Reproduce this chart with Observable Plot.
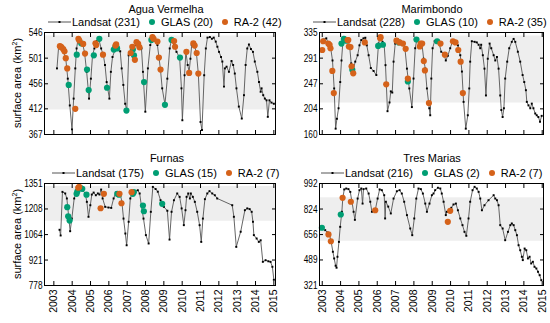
<!DOCTYPE html>
<html><head><meta charset="utf-8">
<script src="https://cdn.jsdelivr.net/npm/d3@7"></script>
<script src="https://cdn.jsdelivr.net/npm/@observablehq/plot@0.6"></script>
<style>
body{margin:0;background:#fff}
#wrap{position:relative;width:550px;height:323px;overflow:hidden;font-family:"Liberation Sans",Arial,sans-serif;color:#000}
.ttl{position:absolute;font-size:11px;transform:translate(-50%,-50%);white-space:nowrap}
.leg{position:absolute;display:flex;align-items:center;font-size:11px;white-space:nowrap;height:14px}
.dotc{width:6px;height:6px;border-radius:50%;margin-left:9px;margin-right:6px}
.ylab{position:absolute;font-size:11px;white-space:nowrap;transform:translate(-50%,-50%) rotate(-90deg)}
.ylab sup{font-size:7px;vertical-align:4px;line-height:0}
svg.pp{position:absolute;left:0;top:0}
</style>
</head><body><div id="wrap"></div>
<script>
const years = [2003,2004,2005,2006,2007,2008,2009,2010,2011,2012,2013,2014,2015];
const seriesNames = ["Landsat","GLAS","RA-2"];

// Agua Vermelha
const aguaLandsat = [[2003.17,483],[2003.26,521],[2003.40,518],[2003.54,511],[2003.65,500],[2003.76,465],[2003.87,418],[2003.99,376],[2004.08,430],[2004.17,483],[2004.24,518],[2004.31,532],[2004.42,530],[2004.56,527],[2004.67,512],[2004.79,477],[2004.92,430],[2005.02,465],[2005.11,506],[2005.21,518],[2005.34,531],[2005.47,532],[2005.58,518],[2005.70,506],[2005.79,489],[2005.88,459],[2006.03,430],[2006.11,477],[2006.20,503],[2006.35,517],[2006.49,521],[2006.62,513],[2006.70,483],[2006.79,454],[2006.89,421],[2006.98,410],[2007.08,506],[2007.23,518],[2007.35,517],[2007.48,525],[2007.62,527],[2007.78,518],[2007.86,477],[2007.99,407],[2008.13,483],[2008.26,524],[2008.39,535],[2008.54,531],[2008.65,524],[2008.73,503],[2008.81,483],[2008.91,448],[2009.06,420],[2009.19,465],[2009.32,518],[2009.41,532],[2009.56,524],[2009.69,512],[2009.86,502],[2009.96,448],[2010.01,392],[2010.13,471],[2010.20,512],[2010.30,489],[2010.38,477],[2010.45,500],[2010.52,524],[2010.64,525],[2010.77,512],[2010.88,474],[2011.00,389],[2011.08,375],[2011.20,471],[2011.29,518],[2011.38,537],[2011.51,538],[2011.62,535],[2011.72,537],[2011.83,530],[2011.92,521],[2012.01,512],[2012.12,503],[2012.19,495],[2012.28,451],[2012.33,483],[2012.42,486],[2012.55,477],[2012.69,496],[2012.78,489],[2012.87,474],[2012.96,448],[2013.09,416],[2013.25,395],[2013.37,436],[2013.46,489],[2013.55,518],[2013.64,525],[2013.75,517],[2013.86,512],[2013.96,495],[2014.10,477],[2014.19,459],[2014.28,442],[2014.33,448],[2014.42,436],[2014.51,430],[2014.60,427],[2014.67,398],[2014.76,427],[2014.87,423],[2015.00,421]];
const aguaGLAS = [[2003.81,454],[2004.25,507],[2004.49,527],[2004.81,481],[2004.90,445],[2005.18,506],[2005.48,535],[2005.90,449],[2006.27,516],[2006.35,520],[2006.40,522],[2006.45,518],[2006.96,409],[2007.31,516],[2007.37,506],[2007.92,459],[2008.32,533],[2009.06,419],[2009.42,533],[2009.88,502]];
const aguaRA2 = [[2003.33,522],[2003.38,521],[2003.42,520],[2003.51,517],[2003.58,513],[2003.65,501],[2003.73,483],[2004.17,412],[2004.34,535],[2004.39,532],[2004.60,526],[2004.70,509],[2005.27,527],[2005.31,524],[2005.68,507],[2006.36,523],[2006.40,525],[2007.19,510],[2007.28,521],[2007.42,498],[2007.51,529],[2007.60,526],[2007.67,520],[2008.38,538],[2008.44,535],[2008.65,530],[2008.73,502],[2008.82,481],[2009.56,531],[2009.61,521],[2010.23,512],[2010.38,475],[2010.61,527],[2010.68,523],[2010.79,510],[2010.88,474]];
const aguaTicks = [367,412,456,501,546];
const aguaBand = [410,540];
const aguaCounts = [231,20,42];

// Marimbondo
const mariLandsat = [[2003.07,323],[2003.22,325],[2003.34,316],[2003.47,306],[2003.56,287],[2003.65,239],[2003.73,170],[2003.80,187],[2003.89,205],[2003.98,250],[2004.05,287],[2004.12,316],[2004.25,326],[2004.38,323],[2004.49,313],[2004.58,282],[2004.67,268],[2004.80,285],[2004.93,296],[2005.03,313],[2005.13,322],[2005.25,325],[2005.35,326],[2005.43,313],[2005.53,296],[2005.65,274],[2005.80,269],[2005.95,262],[2006.07,316],[2006.16,328],[2006.29,319],[2006.38,313],[2006.45,279],[2006.56,200],[2006.67,215],[2006.74,234],[2006.82,232],[2006.89,285],[2006.98,316],[2007.11,323],[2007.26,319],[2007.40,316],[2007.51,308],[2007.62,273],[2007.75,239],[2007.89,207],[2007.98,256],[2008.07,308],[2008.16,322],[2008.31,316],[2008.43,318],[2008.53,290],[2008.62,273],[2008.71,239],[2008.84,205],[2008.89,193],[2008.95,256],[2009.02,308],[2009.13,320],[2009.25,322],[2009.38,316],[2009.49,302],[2009.62,299],[2009.74,287],[2009.85,295],[2009.98,308],[2010.11,320],[2010.26,319],[2010.40,313],[2010.53,296],[2010.62,268],[2010.71,216],[2010.83,170],[2010.94,193],[2011.02,239],[2011.07,285],[2011.16,320],[2011.31,319],[2011.43,318],[2011.53,314],[2011.62,308],[2011.67,314],[2011.76,296],[2011.85,273],[2011.93,227],[2012.03,290],[2012.13,316],[2012.22,308],[2012.35,296],[2012.44,287],[2012.53,293],[2012.62,273],[2012.71,227],[2012.77,202],[2012.84,190],[2012.91,205],[2012.98,256],[2013.09,285],[2013.20,308],[2013.34,319],[2013.44,324],[2013.53,319],[2013.67,302],[2013.80,285],[2013.93,262],[2014.02,250],[2014.11,236],[2014.16,216],[2014.25,210],[2014.35,205],[2014.43,213],[2014.52,205],[2014.62,196],[2014.70,193],[2014.79,190],[2014.88,182],[2014.97,192]];
const mariGLAS = [[2004.05,316],[2004.18,324],[2004.31,321],[2004.64,271],[2006.05,312],[2006.31,314],[2007.18,318],[2007.67,251],[2008.14,323],[2009.27,320]];
const mariRA2 = [[2003.00,305],[2003.05,320],[2003.33,316],[2003.40,314],[2003.45,308],[2003.55,269],[2003.63,231],[2004.38,322],[2004.42,322],[2004.45,311],[2004.54,310],[2004.60,277],[2004.69,265],[2005.32,318],[2006.16,325],[2006.18,327],[2006.49,246],[2007.05,321],[2007.22,318],[2007.40,316],[2007.55,307],[2007.67,256],[2008.32,311],[2008.37,316],[2008.45,316],[2008.54,286],[2008.60,270],[2008.82,214],[2009.45,316],[2009.69,297],[2010.13,320],[2010.27,318],[2010.42,305],[2010.55,285],[2010.67,231]];
const mariTicks = [160,204,247,291,335];
const mariBand = [214,329];
const mariCounts = [228,10,35];

// Furnas
const furnLandsat = [[2003.31,1091],[2003.37,1059],[2003.47,1304],[2003.62,1295],[2003.71,1267],[2003.80,1173],[2003.89,1083],[2003.98,1154],[2004.11,1267],[2004.20,1295],[2004.31,1323],[2004.44,1327],[2004.58,1313],[2004.71,1295],[2004.80,1248],[2004.89,1164],[2004.99,1229],[2005.07,1289],[2005.17,1300],[2005.29,1285],[2005.40,1295],[2005.49,1289],[2005.58,1317],[2005.66,1267],[2005.80,1220],[2005.98,1216],[2006.13,1214],[2006.26,1267],[2006.38,1300],[2006.53,1289],[2006.62,1295],[2006.71,1248],[2006.80,1154],[2006.90,1070],[2006.97,1004],[2007.08,1136],[2007.17,1267],[2007.29,1304],[2007.44,1308],[2007.58,1313],[2007.68,1295],[2007.77,1229],[2007.89,1154],[2008.02,1061],[2008.17,1014],[2008.29,1192],[2008.40,1332],[2008.55,1320],[2008.67,1305],[2008.82,1257],[2009.00,1220],[2009.19,1198],[2009.31,1036],[2009.42,1192],[2009.55,1257],[2009.73,1295],[2009.86,1276],[2009.97,1211],[2010.09,1117],[2010.18,1201],[2010.24,1276],[2010.33,1295],[2010.42,1267],[2010.47,1295],[2010.58,1276],[2010.69,1248],[2010.82,1192],[2010.95,1117],[2011.04,1023],[2011.13,1154],[2011.24,1263],[2011.37,1295],[2011.49,1308],[2011.64,1295],[2011.78,1285],[2011.91,1267],[2012.73,1229],[2012.82,1164],[2012.95,995],[2013.19,1080],[2013.42,1201],[2013.55,1211],[2013.68,1207],[2013.79,1192],[2013.86,1136],[2013.91,1061],[2014.06,1042],[2014.18,1023],[2014.28,1032],[2014.40,911],[2014.55,920],[2014.70,914],[2014.82,911],[2014.92,883],[2015.00,810]];
const furnGLAS = [[2003.73,1218],[2003.78,1167],[2003.86,1143],[2004.24,1293],[2004.28,1306],[2004.46,1325],[2004.55,1321],[2004.78,1288],[2006.46,1293],[2006.55,1288],[2007.31,1293],[2007.36,1302],[2007.86,1227],[2007.91,1195],[2008.91,1237]];
const furnRA2 = [[2004.33,1327],[2004.38,1332],[2005.55,1212],[2005.73,1293],[2006.58,1293],[2006.69,1240],[2007.24,1302]];
const furnTicks = [778,921,1064,1208,1351];
const furnBand = [1139,1334];
const furnCounts = [175,15,7];

// Tres Marias
const tresLandsat = [[2003.16,685],[2003.29,670],[2003.40,652],[2003.47,619],[2003.58,543],[2003.65,499],[2003.73,451],[2003.78,438],[2003.83,510],[2003.91,608],[2003.98,707],[2004.07,806],[2004.12,893],[2004.20,953],[2004.31,959],[2004.43,955],[2004.53,937],[2004.62,872],[2004.71,806],[2004.78,753],[2004.93,893],[2005.03,948],[2005.13,959],[2005.20,860],[2005.25,955],[2005.40,959],[2005.53,926],[2005.62,872],[2005.71,806],[2005.89,816],[2006.02,893],[2006.13,953],[2006.25,948],[2006.38,915],[2006.43,762],[2006.47,872],[2006.60,840],[2006.74,795],[2006.89,893],[2007.07,941],[2007.22,948],[2007.34,926],[2007.47,872],[2007.62,784],[2007.80,696],[2007.91,652],[2008.02,762],[2008.13,893],[2008.25,959],[2008.38,955],[2008.49,926],[2008.62,860],[2008.71,806],[2008.85,860],[2008.98,915],[2009.07,926],[2009.16,948],[2009.31,964],[2009.44,959],[2009.52,926],[2009.62,872],[2009.74,784],[2009.80,806],[2009.93,816],[2010.04,832],[2010.16,854],[2010.29,860],[2010.40,816],[2010.53,762],[2010.65,718],[2010.76,674],[2010.86,648],[2010.98,762],[2011.07,872],[2011.20,948],[2011.31,970],[2011.43,959],[2011.53,937],[2011.62,893],[2011.71,816],[2011.85,849],[2012.07,882],[2012.35,915],[2012.44,893],[2012.53,882],[2012.62,849],[2012.71,718],[2012.84,696],[2012.98,619],[2013.13,674],[2013.26,718],[2013.34,729],[2013.44,718],[2013.53,685],[2013.62,652],[2013.71,586],[2013.80,553],[2013.89,510],[2013.94,488],[2014.04,564],[2014.13,553],[2014.22,499],[2014.31,510],[2014.40,466],[2014.49,477],[2014.58,444],[2014.68,433],[2014.77,411],[2014.86,389],[2014.95,356]];
const tresGLAS = [[2002.98,701],[2004.01,788]];
const tresRA2 = [[2003.34,657],[2003.47,612],[2004.11,898],[2004.56,872],[2005.89,816],[2009.85,740],[2009.98,812]];
const tresTicks = [321,489,656,824,992];
const tresBand = [612,898];
const tresCounts = [216,2,7];

const colGLAS = "#009E73", colRA2 = "#D5621A";

const panels = [
  {title:"Agua Vermelha", L:aguaLandsat, G:aguaGLAS, R:aguaRA2, ticks:aguaTicks, band:aguaBand, counts:aguaCounts,
   fr:[44,275,32,134], xdom:[2002.49,2015.09], xlab:false, ylab:true, tx:166, ty:8.5, lx:48, ly:21.5},
  {title:"Marimbondo", L:mariLandsat, G:mariGLAS, R:mariRA2, ticks:mariTicks, band:mariBand, counts:mariCounts,
   fr:[319,543,32,134], xdom:[2002.85,2015.07], xlab:false, ylab:false, tx:432, ty:8.5, lx:313, ly:21.5},
  {title:"Furnas", L:furnLandsat, G:furnGLAS, R:furnRA2, ticks:furnTicks, band:furnBand, counts:furnCounts,
   fr:[44,275,183,285], xdom:[2002.49,2015.09], xlab:true, ylab:true, tx:167, ty:157.5, lx:52, ly:172.5},
  {title:"Tres Marias", L:tresLandsat, G:tresGLAS, R:tresRA2, ticks:tresTicks, band:tresBand, counts:tresCounts,
   fr:[319,543,183,285], xdom:[2002.85,2015.07], xlab:true, ylab:false, tx:432, ty:157.5, lx:321, ly:172.5}
];

const wrap = document.getElementById("wrap");
const blank = () => "";
const plain = d => String(d);

function condense(svg, factor) {
  svg.querySelectorAll('g[aria-label="y-axis tick label"] text').forEach(t => {
    const tr = t.getAttribute("transform");
    if (tr) {
      t.setAttribute("transform", tr + ` scale(${factor},1)`);
    } else {
      const x = t.getAttribute("x") || 0, y = t.getAttribute("y") || 0;
      t.removeAttribute("x"); t.removeAttribute("y");
      t.setAttribute("transform", `translate(${x},${y}) scale(${factor},1)`);
    }
  });
}

for (const p of panels) {
  const [l, r, t, b] = p.fr;
  const svg = Plot.plot({
    width: 550, height: 323,
    marginLeft: l, marginRight: 550 - r, marginTop: t, marginBottom: 323 - b,
    x: {domain: p.xdom},
    y: {domain: [p.ticks[0], p.ticks[p.ticks.length - 1]]},
    style: {background: "transparent", fontFamily: '"Liberation Sans", Arial, sans-serif', fontSize: "11px", overflow: "visible"},
    marks: [
      Plot.rect([p.band], {y1: d => d[0], y2: d => d[1], fill: "#eeeeee"}),
      Plot.line(p.L, {x: d => d[0], y: d => d[1], stroke: "#555", strokeWidth: 0.9}),
      Plot.dot(p.L, {x: d => d[0], y: d => d[1], r: 1.1, symbol: "square", fill: "#000"}),
      Plot.dot(p.G, {x: d => d[0], y: d => d[1], r: 3.1, fill: colGLAS}),
      Plot.dot(p.R, {x: d => d[0], y: d => d[1], r: 3.1, fill: colRA2}),
      Plot.frame({stroke: "#000", strokeWidth: 1}),
      Plot.axisY(p.ticks, {anchor: "left", tickSize: -4, tickPadding: 6, tickFormat: plain, label: null, fontSize: 11}),
      Plot.axisY(p.ticks, {anchor: "right", tickSize: -4, tickFormat: blank, label: null}),
      Plot.axisX(years, {anchor: "bottom", tickSize: -4, tickRotate: -90, tickPadding: 8,
        tickFormat: p.xlab ? plain : blank, label: null, fontSize: 10.5}),
      Plot.axisX(years, {anchor: "top", tickSize: -4, tickFormat: blank, label: null})
    ]
  });
  svg.classList.add("pp");
  condense(svg, 0.75);
  wrap.appendChild(svg);

  const ttl = document.createElement("div");
  ttl.className = "ttl"; ttl.textContent = p.title;
  ttl.style.left = p.tx + "px"; ttl.style.top = p.ty + "px";
  wrap.appendChild(ttl);

  const leg = document.createElement("div");
  leg.className = "leg";
  leg.style.left = p.lx + "px"; leg.style.top = (p.ly - 7) + "px";
  leg.innerHTML =
    `<svg width="23" height="8" style="margin-right:1px"><line x1="0" y1="4" x2="23" y2="4" stroke="#555" stroke-width="1"/><rect x="10.5" y="3" width="2" height="2" fill="#000"/></svg>` +
    `<span>${seriesNames[0]} (${p.counts[0]})</span>` +
    `<span class="dotc" style="background:${colGLAS}"></span><span>${seriesNames[1]} (${p.counts[1]})</span>` +
    `<span class="dotc" style="background:${colRA2}"></span><span>${seriesNames[2]} (${p.counts[2]})</span>`;
  wrap.appendChild(leg);

  if (p.ylab) {
    const yl = document.createElement("div");
    yl.className = "ylab";
    yl.innerHTML = "surface area (km<sup>2</sup>)";
    yl.style.left = "17px"; yl.style.top = ((t + b) / 2) + "px";
    wrap.appendChild(yl);
  }
}
</script></body></html>
